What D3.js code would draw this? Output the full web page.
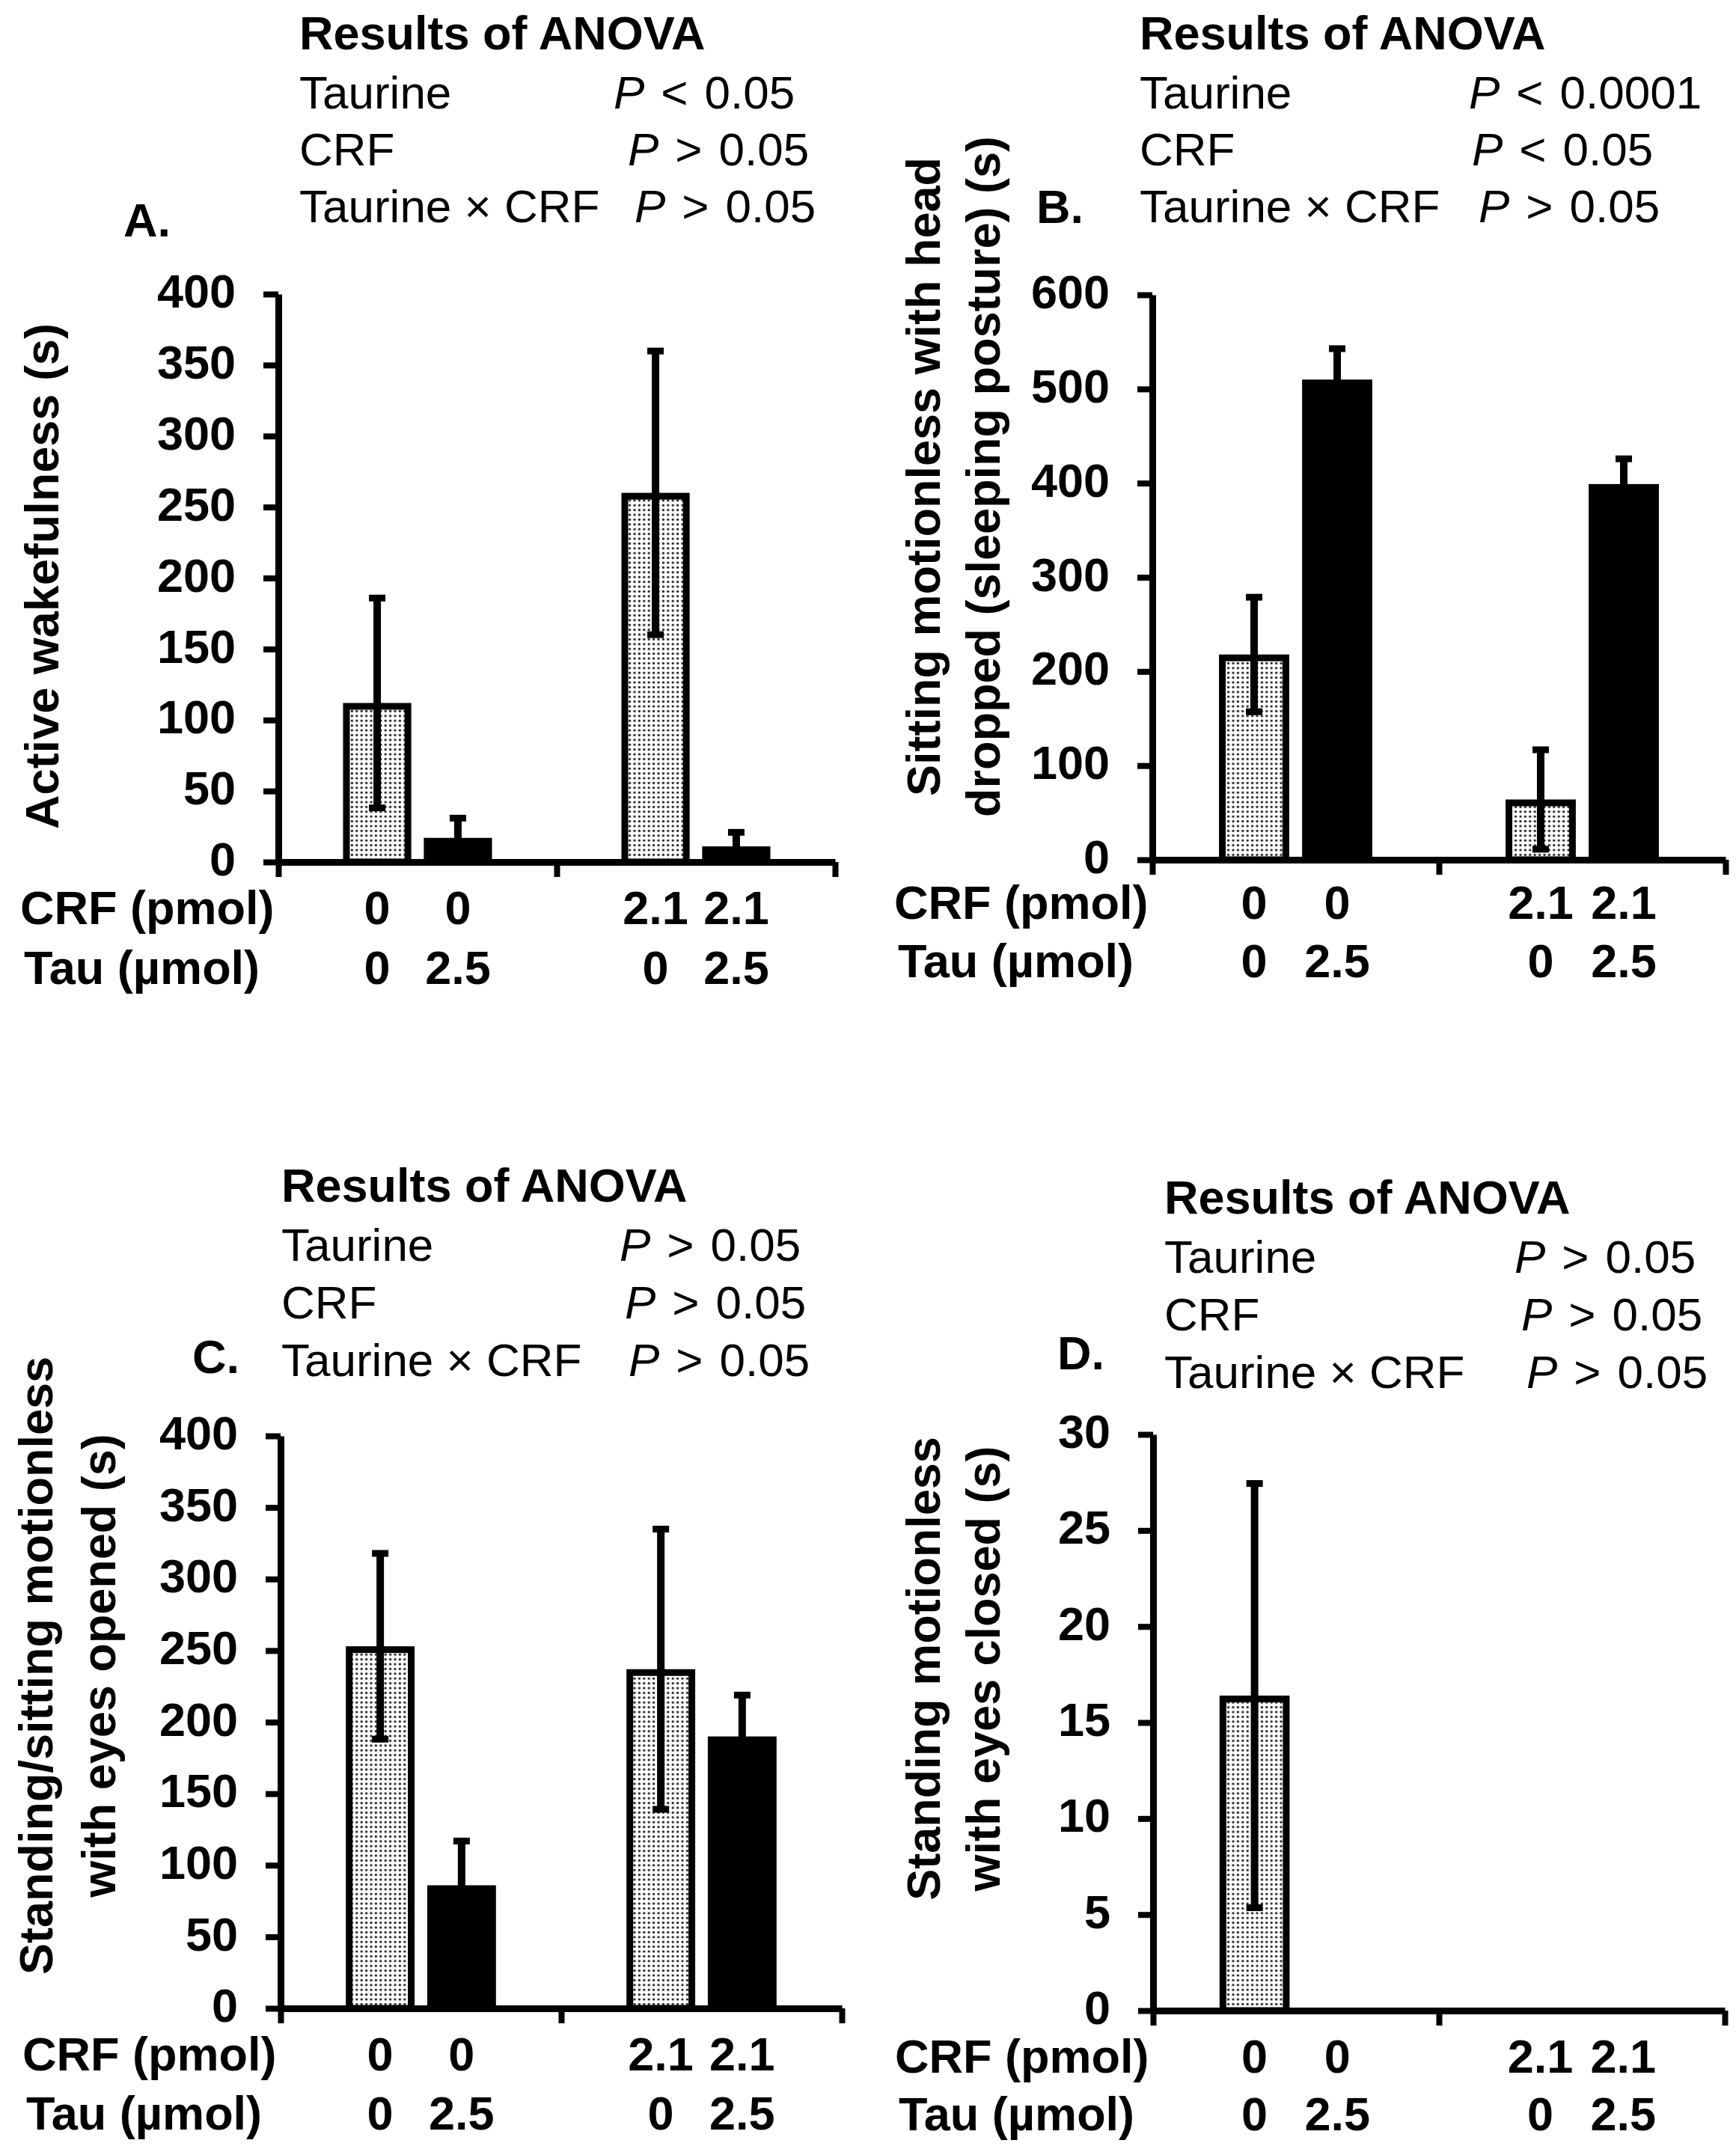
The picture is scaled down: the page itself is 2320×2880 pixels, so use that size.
<!DOCTYPE html>
<html>
<head>
<meta charset="utf-8">
<script src="https://cdn.jsdelivr.net/npm/d3@7"></script>
<style>
  body { margin: 0; background: #fff; }
  text { font-family: "Liberation Sans", Arial, sans-serif; fill: #000; }
</style>
</head>
<body>
<svg id="fig" width="2320" height="2880"></svg>
<script>
// Groups (CRF dose) and series (taurine dose)
var groups = ["CRF 0", "CRF 2.1"];
var series = ["Tau 0", "Tau 2.5"];
var crfLabels = ["0", "0", "2.1", "2.1"];
var tauLabels = ["0", "2.5", "0", "2.5"];

// A. active wakefulness
var wakeMean = [112, 17, 260, 11];
var wakeErr = [76, 16, 102, 12];
// B. sleeping posture
var sleepMean = [218, 510, 64, 399];
var sleepErr = [64, 36, 56, 30];
// C. motionless eyes opened
var openMean = [253, 86, 237, 190];
var openErr = [67, 33, 100, 31];
// D. motionless eyes closed
var closedMean = [16.4, 0, 0, 0];
var closedErr = [11.2, 0, 0, 0];

var ticksA = [0, 50, 100, 150, 200, 250, 300, 350, 400];
var ticksB = [0, 100, 200, 300, 400, 500, 600];
var ticksC = [0, 50, 100, 150, 200, 250, 300, 350, 400];
var ticksD = [0, 5, 10, 15, 20, 25, 30];

var anovaTerms = ["Taurine", "CRF", "Taurine \u00d7 CRF"];
var pA = ["< 0.05", "> 0.05", "> 0.05"];
var pB = ["< 0.0001", "< 0.05", "> 0.05"];
var pC = ["> 0.05", "> 0.05", "> 0.05"];
var pD = ["> 0.05", "> 0.05", "> 0.05"];

var svg = d3.select("#fig");

// stipple fill for vehicle bars
var pat = svg.append("defs").append("pattern")
  .attr("id", "dots").attr("patternUnits", "userSpaceOnUse")
  .attr("width", 6.4).attr("height", 6.4);
pat.append("rect").attr("width", 6.4).attr("height", 6.4).attr("fill", "#fff");
pat.append("circle").attr("cx", 3.2).attr("cy", 3.2).attr("r", 1.7).attr("fill", "#2a2a2a");

var panels = [
  {letter: "A.", mean: wakeMean, err: wakeErr, ticks: ticksA, max: 400, p: pA,
   left: 372, right: 1116, top: 393, bottom: 1152,
   ylab: ["Active wakefulness (s)"], ylabX: [78], ylabY: 770,
   letterX: 165, letterY: 316, headX: 400, headY: 66, pX: [820, 839, 848], rowGap: 76,
   crfY: 1235, tauY: 1315},
  {letter: "B.", mean: sleepMean, err: sleepErr, ticks: ticksB, max: 600, p: pB,
   left: 1540, right: 2306, top: 394, bottom: 1149,
   ylab: ["Sitting motionless with head", "dropped (sleeping posture) (s)"], ylabX: [1256, 1336], ylabY: 637,
   letterX: 1385, letterY: 298, headX: 1523, headY: 66, pX: [1963, 1967, 1976], rowGap: 76,
   crfY: 1228, tauY: 1306},
  {letter: "C.", mean: openMean, err: openErr, ticks: ticksC, max: 400, p: pC,
   left: 375, right: 1125, top: 1919, bottom: 2684,
   ylab: ["Standing/sitting motionless", "with eyes opened (s)"], ylabX: [70, 154], ylabY: 2226,
   letterX: 257, letterY: 1835, headX: 376, headY: 1606, pX: [828, 835, 840], rowGap: 77,
   crfY: 2767, tauY: 2846},
  {letter: "D.", mean: closedMean, err: closedErr, ticks: ticksD, max: 30, p: pD,
   left: 1541, right: 2305, top: 1917, bottom: 2687,
   ylab: ["Standing motionless", "with eyes closed (s)"], ylabX: [1256, 1336], ylabY: 2230,
   letterX: 1413, letterY: 1830, headX: 1556, headY: 1622, pX: [2024, 2033, 2040], rowGap: 77,
   crfY: 2770, tauY: 2847}
];

var boldSize = 63;

panels.forEach(function(pn) {
  var g = svg.append("g");

  var rows = pn.mean.map(function(m, i) {
    return {group: groups[Math.floor(i / 2)], series: series[i % 2], mean: m, err: pn.err[i], i: i};
  });

  var x0 = d3.scaleBand().domain(groups).range([pn.left, pn.right]);
  var gw = x0.bandwidth();
  var x1 = d3.scaleBand().domain(series).range([gw * 0.2325, gw * 0.7675]).paddingInner(0.155);
  var xb = d3.scaleLinear().domain([0, groups.length]).range([pn.left, pn.right]);
  var y = d3.scaleLinear().domain([0, pn.max]).range([pn.bottom, pn.top]);

  var sw = 9;
  var cx = function(d) { return x0(d.group) + x1(d.series) + x1.bandwidth() / 2; };

  // bars
  g.selectAll(".bar").data(rows.filter(function(d) { return d.mean > 0; })).enter().append("rect")
    .attr("x", function(d) { return x0(d.group) + x1(d.series) + sw / 2; })
    .attr("width", x1.bandwidth() - sw)
    .attr("y", function(d) { return y(d.mean) + sw / 2; })
    .attr("height", function(d) { return y(0) - y(d.mean) - sw / 2; })
    .attr("fill", function(d) { return d.series === series[0] ? "url(#dots)" : "#000"; })
    .attr("stroke", "#000").attr("stroke-width", sw);

  // error bars (+/- SEM)
  var eb = rows.filter(function(d) { return d.err > 0; });
  g.selectAll(".err").data(eb).enter().append("line")
    .attr("x1", cx).attr("x2", cx)
    .attr("y1", function(d) { return y(d.mean + d.err); })
    .attr("y2", function(d) { return y(Math.max(0, d.mean - d.err)); })
    .attr("stroke", "#000").attr("stroke-width", 10);
  g.selectAll(".capTop").data(eb).enter().append("line")
    .attr("x1", function(d) { return cx(d) - 11; }).attr("x2", function(d) { return cx(d) + 11; })
    .attr("y1", function(d) { return y(d.mean + d.err) + 4; })
    .attr("y2", function(d) { return y(d.mean + d.err) + 4; })
    .attr("stroke", "#000").attr("stroke-width", 9);
  g.selectAll(".capBot").data(eb.filter(function(d) { return d.mean - d.err > 0; })).enter().append("line")
    .attr("x1", function(d) { return cx(d) - 11; }).attr("x2", function(d) { return cx(d) + 11; })
    .attr("y1", function(d) { return y(d.mean - d.err) - 4; })
    .attr("y2", function(d) { return y(d.mean - d.err) - 4; })
    .attr("stroke", "#000").attr("stroke-width", 9);

  // axes
  var yAxis = g.append("g").attr("transform", "translate(" + pn.left + ",0)")
    .call(d3.axisLeft(y).tickValues(pn.ticks).tickSize(20).tickSizeOuter(0).tickPadding(37));
  var xAxis = g.append("g").attr("transform", "translate(0," + pn.bottom + ")")
    .call(d3.axisBottom(xb).tickValues(d3.range(groups.length + 1)).tickSize(20).tickSizeOuter(0).tickFormat(""));
  [yAxis, xAxis].forEach(function(ax) {
    ax.select(".domain").attr("stroke", "#000").attr("stroke-width", sw);
    ax.selectAll(".tick line").attr("stroke", "#000").attr("stroke-width", 8);
    ax.selectAll(".tick text").attr("dy", "0.28em").style("font-family", "Liberation Sans, Arial, sans-serif")
      .style("font-size", boldSize + "px").style("font-weight", "bold").attr("fill", "#000");
  });

  // category rows
  g.append("text").attr("x", pn.left - 345).attr("y", pn.crfY)
    .style("font-size", boldSize + "px").style("font-weight", "bold").text("CRF (pmol)");
  g.append("text").attr("x", pn.left - 340).attr("y", pn.tauY)
    .style("font-size", boldSize + "px").style("font-weight", "bold").text("Tau (\u00b5mol)");
  g.selectAll(".crf").data(rows).enter().append("text")
    .attr("x", cx).attr("y", pn.crfY).attr("text-anchor", "middle")
    .style("font-size", boldSize + "px").style("font-weight", "bold")
    .text(function(d) { return crfLabels[d.i]; });
  g.selectAll(".tau").data(rows).enter().append("text")
    .attr("x", cx).attr("y", pn.tauY).attr("text-anchor", "middle")
    .style("font-size", boldSize + "px").style("font-weight", "bold")
    .text(function(d) { return tauLabels[d.i]; });

  // y label
  pn.ylab.forEach(function(line, k) {
    g.append("text")
      .attr("transform", "translate(" + pn.ylabX[k] + "," + pn.ylabY + ") rotate(-90)")
      .attr("text-anchor", "middle")
      .style("font-size", boldSize + "px").style("font-weight", "bold")
      .text(line);
  });

  // panel letter
  g.append("text").attr("x", pn.letterX).attr("y", pn.letterY)
    .style("font-size", boldSize + "px").style("font-weight", "bold").text(pn.letter);

  // ANOVA block
  g.append("text").attr("x", pn.headX).attr("y", pn.headY)
    .style("font-size", "63px").style("font-weight", "bold").text("Results of ANOVA");
  anovaTerms.forEach(function(term, k) {
    var yy = pn.headY + 79 + k * pn.rowGap;
    g.append("text").attr("x", pn.headX).attr("y", yy).style("font-size", "62px").text(term);
    var parts = pn.p[k].split(" ");
    var t = g.append("text").attr("x", pn.pX[k]).attr("y", yy).style("font-size", "62px");
    t.append("tspan").style("font-style", "italic").text("P");
    t.append("tspan").attr("dx", 22).text(parts[0]);
    t.append("tspan").attr("dx", 22).text(parts[1]);
  });
});
</script>
</body>
</html>
